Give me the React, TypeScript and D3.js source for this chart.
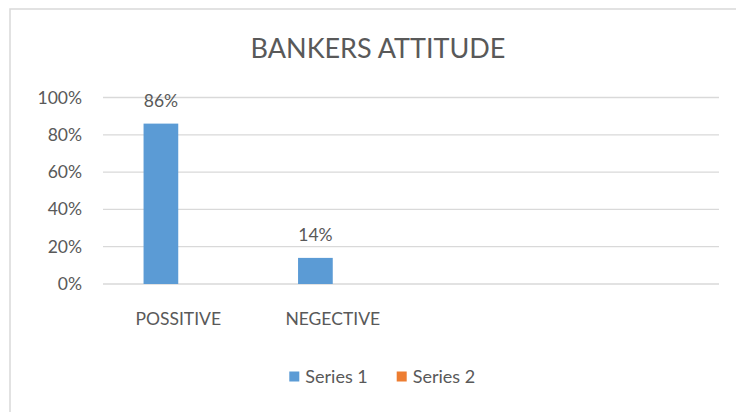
import React from "react";
import * as d3 from "d3";

const categories = ["POSSITIVE", "NEGECTIVE", "", " "];
const series1 = [0.86, 0.14, null, null];
const series2 = [null, null, null, null];
const seriesNames = ["Series 1", "Series 2"];
const yTicks = [0, 0.2, 0.4, 0.6, 0.8, 1.0];
const title = "BANKERS ATTITUDE";

const W = 736;
const H = 412;
const FONT = "Lato, 'Open Sans', sans-serif";
const TEXT = "#595959";
const GRID = "#D9D9D9";
const COLORS = ["#5B9BD5", "#ED7D31"];

export default function App() {
  const x = d3.scaleBand<string>().domain(categories).range([101, 719]).paddingInner(0).paddingOuter(0);
  const y = d3.scaleLinear().domain([0, 1]).range([284, 97.5]);
  const barW = 34.7;
  const fmt = d3.format(".0%");

  return (
    <svg
      width={W}
      height={H}
      style={{ position: "fixed", left: 0, top: 0, background: "#fff" }}
      fontFamily={FONT}
    >
      <rect x={10} y={9} width={W} height={H} fill="#fff" stroke={GRID} strokeWidth={1.5} />
      <text x={378} y={58.3} textAnchor="middle" fontSize={27} fill={TEXT}>
        {title}
      </text>
      {yTicks.map((t) => (
        <g key={t}>
          <line x1={103} x2={719} y1={y(t)} y2={y(t)} stroke={GRID} strokeWidth={1.3} />
          <text x={82} y={y(t) + 6} textAnchor="end" fontSize={17.5} fill={TEXT}>
            {fmt(t)}
          </text>
        </g>
      ))}
      {categories.map((c, i) => {
        const cx = (x(c) as number) + x.bandwidth() / 2;
        const v1 = series1[i];
        const v2 = series2[i];
        return (
          <g key={i}>
            {v1 != null && (
              <>
                <rect x={cx - barW} y={y(v1)} width={barW} height={y(0) - y(v1)} fill={COLORS[0]} />
                <text x={cx - barW / 2} y={y(v1) - 17} textAnchor="middle" fontSize={17.5} fill={TEXT}>
                  {fmt(v1)}
                </text>
              </>
            )}
            {v2 != null && (
              <rect x={cx} y={y(v2)} width={barW} height={y(0) - y(v2)} fill={COLORS[1]} />
            )}
            <text x={cx} y={325} textAnchor="middle" fontSize={17.5} fill={TEXT}>
              {c.trim()}
            </text>
          </g>
        );
      })}
      {seriesNames.map((s, i) => {
        const lx = [289.3, 396.7][i];
        return (
          <g key={s}>
            <rect x={lx} y={371.5} width={10} height={10} fill={COLORS[i]} />
            <text x={lx + 16} y={383.3} fontSize={18} fill={TEXT}>
              {s}
            </text>
          </g>
        );
      })}
    </svg>
  );
}
